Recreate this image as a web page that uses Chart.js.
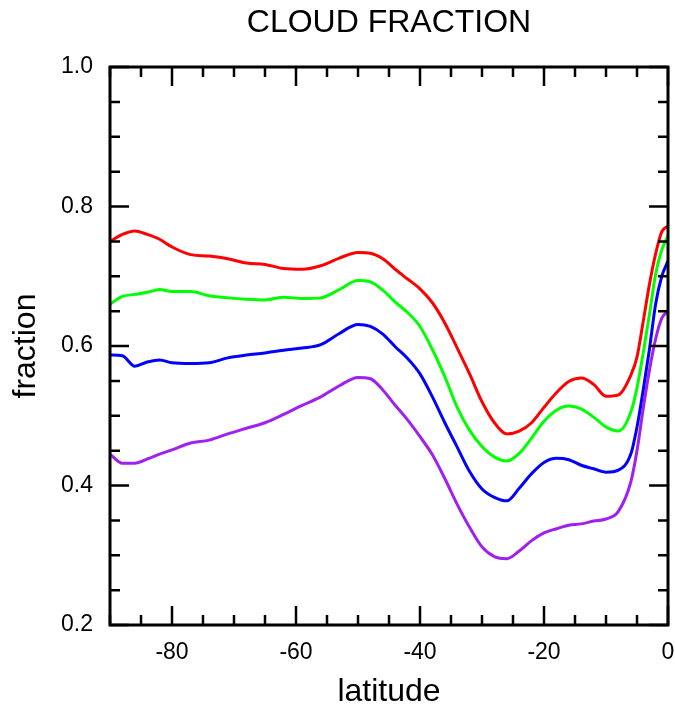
<!DOCTYPE html>
<html>
<head>
<meta charset="utf-8">
<script src="https://cdn.jsdelivr.net/npm/chart.js@4/dist/chart.umd.min.js"></script>
<style>
  html, body { margin: 0; padding: 0; background: #fff; }
  #wrap { width: 675px; height: 713px; }
</style>
</head>
<body>
<div id="wrap"><canvas id="myChart" width="675" height="713"></canvas></div>
<script>
// latitude grid shared by all curves
const lat = [-90, -88, -86, -84, -82, -80, -77, -74, -71, -68, -65, -62, -59, -56, -53, -50,
  -48, -46, -44, -42, -40, -38, -36, -34, -32, -30, -28, -26, -24, -22, -20, -18, -16,
  -14, -12, -10, -8, -6, -5, -4, -3, -2, -1, 0];

const red = [0.750, 0.760, 0.765, 0.760, 0.753, 0.742, 0.731, 0.729, 0.725, 0.719, 0.717,
  0.711, 0.710, 0.715, 0.726, 0.734, 0.733, 0.725, 0.710, 0.696, 0.682, 0.662, 0.633, 0.597,
  0.560, 0.520, 0.490, 0.474, 0.478, 0.490, 0.512, 0.533, 0.549, 0.554, 0.545, 0.528, 0.530,
  0.558, 0.584, 0.635, 0.688, 0.732, 0.764, 0.772];

const green = [0.660, 0.671, 0.674, 0.677, 0.681, 0.678, 0.678, 0.672, 0.669, 0.667, 0.666,
  0.670, 0.668, 0.669, 0.681, 0.694, 0.692, 0.680, 0.663, 0.648, 0.628, 0.595, 0.556, 0.512,
  0.479, 0.456, 0.441, 0.435, 0.446, 0.468, 0.492, 0.508, 0.514, 0.510, 0.498, 0.484, 0.478,
  0.505, 0.540, 0.590, 0.645, 0.703, 0.738, 0.758];

const blue = [0.587, 0.586, 0.571, 0.577, 0.580, 0.576, 0.575, 0.576, 0.583, 0.587, 0.590,
  0.594, 0.597, 0.602, 0.618, 0.631, 0.628, 0.617, 0.599, 0.582, 0.560, 0.527, 0.490, 0.455,
  0.420, 0.395, 0.383, 0.378, 0.396, 0.417, 0.433, 0.439, 0.437, 0.429, 0.424, 0.419, 0.422,
  0.445, 0.484, 0.537, 0.595, 0.660, 0.700, 0.722];

const purple = [0.445, 0.432, 0.432, 0.438, 0.445, 0.451, 0.461, 0.465, 0.474, 0.482, 0.490,
  0.502, 0.515, 0.527, 0.543, 0.555, 0.553, 0.537, 0.515, 0.494, 0.470, 0.444, 0.410, 0.373,
  0.340, 0.312, 0.298, 0.295, 0.306, 0.321, 0.332, 0.338, 0.343, 0.345, 0.349, 0.352, 0.363,
  0.405, 0.450, 0.510, 0.565, 0.610, 0.640, 0.650];

const xTicks = [-80, -60, -40, -20, 0];
const yTicks = [0.2, 0.4, 0.6, 0.8, 1.0];
const xMinorStep = 5;
const yMinorStep = 0.05;

const FONT = '"Liberation Sans", Arial, Helvetica, sans-serif';

const toPoints = (vals) => vals.map((v, i) => ({ x: lat[i], y: v }));

const series = (label, vals, color) => ({
  label: label,
  data: toPoints(vals),
  borderColor: color,
  backgroundColor: color,
  borderWidth: 3,
  pointRadius: 0,
  cubicInterpolationMode: 'monotone',
  fill: false,
});

// frame, inward ticks on all four sides, and the title
const framePlugin = {
  id: 'frame',
  afterDatasetsDraw(chart) {
    const ctx = chart.ctx;
    const a = chart.chartArea;
    const xs = chart.scales.x;
    const ys = chart.scales.y;
    const major = 19, minor = 10;
    ctx.save();
    ctx.strokeStyle = '#000';
    ctx.lineWidth = 2.5;
    ctx.beginPath();
    for (let v = -90; v <= 0.001; v += xMinorStep) {
      const px = xs.getPixelForValue(v);
      const len = xTicks.includes(Math.round(v)) ? major : minor;
      ctx.moveTo(px, a.bottom); ctx.lineTo(px, a.bottom - len);
      ctx.moveTo(px, a.top); ctx.lineTo(px, a.top + len);
    }
    for (let v = 0.2; v <= 1.0001; v += yMinorStep) {
      const py = ys.getPixelForValue(v);
      const isMajor = yTicks.some(t => Math.abs(t - v) < 1e-6);
      const len = isMajor ? major : minor;
      ctx.moveTo(a.left, py); ctx.lineTo(a.left + len, py);
      ctx.moveTo(a.right, py); ctx.lineTo(a.right - len, py);
    }
    ctx.stroke();
    ctx.lineWidth = 3;
    ctx.strokeRect(a.left, a.top, a.right - a.left, a.bottom - a.top);

    ctx.fillStyle = '#000';
    ctx.font = '32px ' + FONT;
    ctx.textAlign = 'center';
    ctx.textBaseline = 'middle';
    ctx.fillText('CLOUD FRACTION', (a.left + a.right) / 2, 23);
    ctx.restore();
  },
};

const config = {
  type: 'line',
  data: {
    datasets: [
      series('red', red, '#ff0000'),
      series('green', green, '#00ff00'),
      series('blue', blue, '#0000ff'),
      series('purple', purple, '#a020f0'),
    ],
  },
  options: {
    responsive: false,
    animation: false,
    events: [],
    layout: { padding: { top: 67, right: 7, left: 0, bottom: 0 } },
    plugins: {
      legend: { display: false },
      tooltip: { enabled: false },
      title: { display: false },
    },
    scales: {
      x: {
        type: 'linear',
        min: -90,
        max: 0,
        grid: { display: false, drawTicks: false },
        border: { display: false },
        afterBuildTicks: (scale) => { scale.ticks = xTicks.map(v => ({ value: v })); },
        afterFit: (scale) => {
          scale.height = 88;
          scale.paddingLeft = 0;
          scale.paddingRight = 0;
        },
        ticks: {
          color: '#000',
          font: { family: FONT, size: 23 },
          padding: 14,
          maxRotation: 0,
          autoSkip: false,
        },
        title: {
          display: true,
          text: 'latitude',
          color: '#000',
          font: { family: FONT, size: 32 },
          padding: { top: 0, bottom: 2 },
        },
      },
      y: {
        type: 'linear',
        min: 0.2,
        max: 1.0,
        grid: { display: false, drawTicks: false },
        border: { display: false },
        afterBuildTicks: (scale) => { scale.ticks = yTicks.map(v => ({ value: v })); },
        afterFit: (scale) => {
          scale.width = 110;
          scale.paddingTop = 0;
          scale.paddingBottom = 0;
        },
        ticks: {
          color: '#000',
          font: { family: FONT, size: 23 },
          padding: 17,
          autoSkip: false,
          callback: (v) => Number(v).toFixed(1),
        },
        title: {
          display: true,
          text: 'fraction',
          color: '#000',
          font: { family: FONT, size: 32 },
          padding: { top: 7, bottom: 0 },
        },
      },
    },
  },
  plugins: [framePlugin],
};

new Chart(document.getElementById('myChart'), config);
</script>
</body>
</html>
